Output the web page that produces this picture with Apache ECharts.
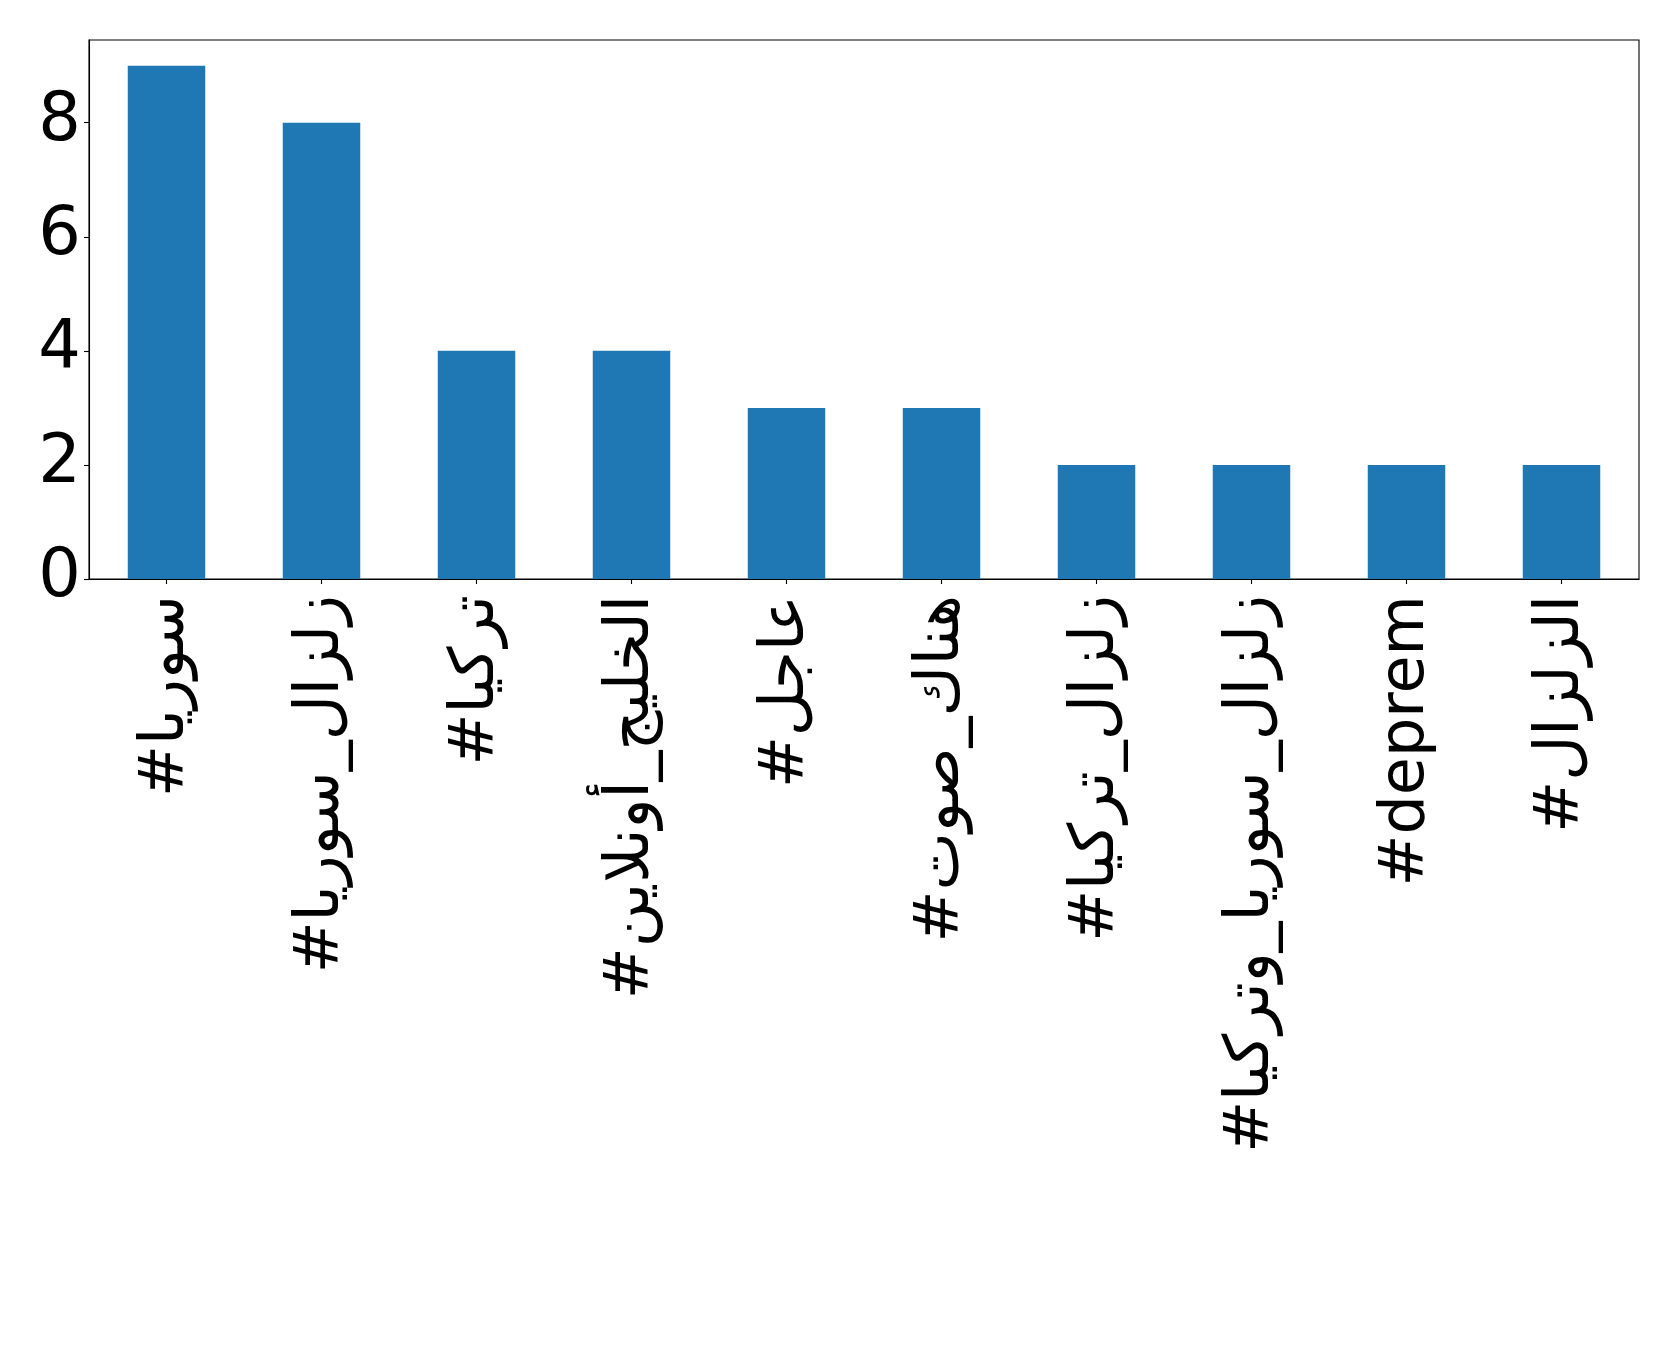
<!DOCTYPE html>
<html>
<head>
<meta charset="utf-8">
<script src="https://cdn.jsdelivr.net/npm/echarts@6/dist/echarts.min.js"></script>
<style>
html,body{margin:0;padding:0;background:#fff;}
#chart{width:1679px;height:1352px;}
</style>
</head>
<body>
<div id="chart"></div>
<script>
const categories = [
  "#سوريا",
  "#زلزال_سوريا",
  "#تركيا",
  "#الخليج_أونلاين",
  "#عاجل",
  "#هناك_صوت",
  "#زلزال_تركيا",
  "#زلزال_سوريا_وتركيا",
  "#deprem",
  "#الزلزال"
];
const counts = [9, 8, 4, 4, 3, 3, 2, 2, 2, 2];
const yTicks = [0, 2, 4, 6, 8];

const chart = echarts.init(document.getElementById('chart'), null, {renderer: 'canvas'});
chart.setOption({
  animation: false,
  backgroundColor: '#ffffff',
  grid: {
    left: 89, right: 40, top: 40, bottom: 773,
    show: true, borderColor: '#000', borderWidth: 1.1, backgroundColor: 'transparent',
    containLabel: false
  },
  xAxis: {
    type: 'category',
    data: categories,
    axisLine: {show: true, lineStyle: {color: '#000', width: 1.1}},
    axisTick: {show: true, alignWithLabel: true, length: 5, lineStyle: {color: '#000', width: 1.1}},
    axisLabel: {
      rotate: 90,
      interval: 0,
      margin: 16,
      color: '#000',
      fontFamily: 'DejaVu Sans',
      fontSize: 62
    },
    splitLine: {show: false}
  },
  yAxis: {
    type: 'value',
    min: 0,
    max: 9.45,
    interval: 2,
    axisLine: {show: true, lineStyle: {color: '#000', width: 1.1}},
    axisTick: {show: true, length: 5, lineStyle: {color: '#000', width: 1.1}},
    axisLabel: {
      margin: 8,
      color: '#000',
      fontFamily: 'DejaVu Sans',
      fontSize: 67,
      showMaxLabel: false,
      formatter: function (v) { return yTicks.indexOf(v) >= 0 ? String(v) : ''; }
    },
    splitLine: {show: false}
  },
  series: [{
    type: 'bar',
    data: counts,
    barWidth: '50%',
    itemStyle: {color: '#1f77b4'}
  }]
});
</script>
</body>
</html>
